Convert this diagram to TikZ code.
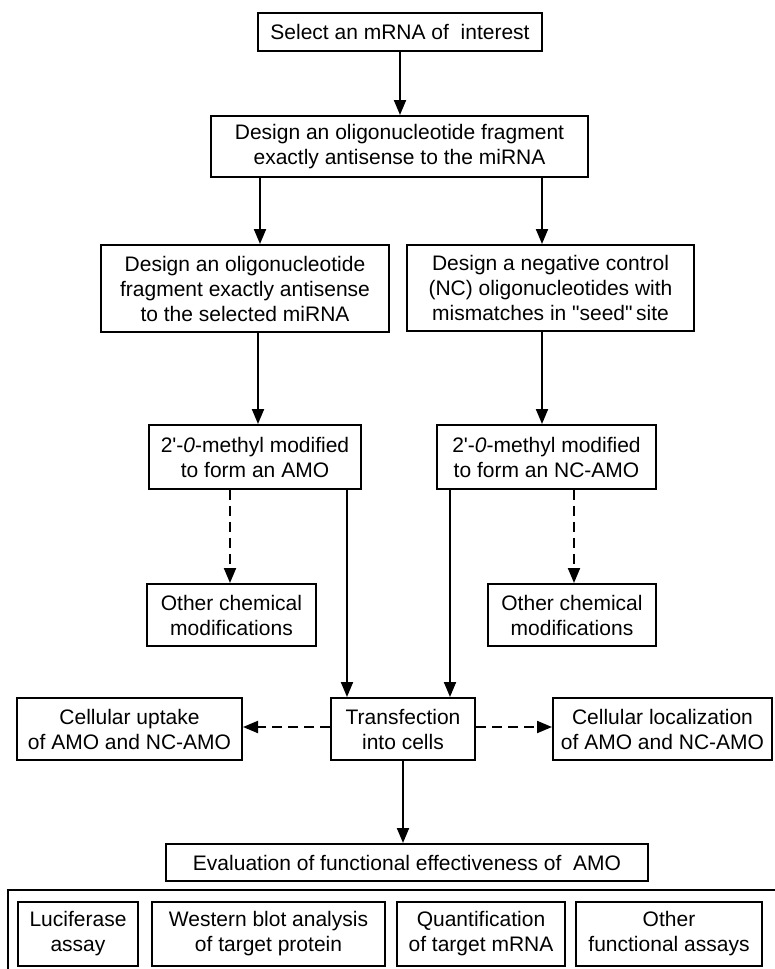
\documentclass[tikz,border=0pt]{standalone}
\usepackage{fontspec}
% plain family (no TeX mapping) so that ' and " stay straight
\newfontfamily\boxfont{Liberation Sans}
\usetikzlibrary{arrows.meta}
\begin{document}
\begin{tikzpicture}[x=1pt,y=-1pt,
  box/.style={draw, line width=2pt, align=center, inner sep=0pt,
    font=\boxfont\fontsize{21}{25}\selectfont},
  arr/.style={line width=2pt, -{Triangle[length=15pt,width=12pt]}},
  darr/.style={arr, dash pattern=on 10pt off 6pt}]
\useasboundingbox (0,0) rectangle (774,969);
\fill[white] (0,0) rectangle (774,969);

% main chain
\node[box, minimum width=284pt, minimum height=38pt] (n1) at (400,32) {Select an mRNA of\ \ interest};
\node[box, minimum width=377pt, minimum height=61pt] (n2) at (399.5,146.5)
  {Design an oligonucleotide fragment\\exactly antisense to the miRNA};
\node[box, minimum width=288pt, minimum height=87pt] (n3) at (245,288.5)
  {Design an oligonucleotide\\fragment exactly antisense\\to the selected miRNA};
\node[box, minimum width=287pt, minimum height=86pt] (n4) at (550.5,288)
  {Design a negative control\\(NC) oligonucleotides with\\mismatches in "seed"\,site};
\node[box, minimum width=212pt, minimum height=64pt] (n5) at (255,457)
  {2'-\textit{0}-methyl modified\\to form an AMO};
\node[box, minimum width=219pt, minimum height=64pt] (n6) at (546.5,457)
  {2'-\textit{0}-methyl modified\\to form an NC-AMO};
\node[box, minimum width=169pt, minimum height=62pt] (oc1) at (231.5,615)
  {Other chemical\\modifications};
\node[box, minimum width=168pt, minimum height=62pt] (oc2) at (572,615)
  {Other chemical\\modifications};
\node[box, minimum width=144pt, minimum height=62pt] (tr) at (403,729)
  {Transfection\\into cells};
\node[box, minimum width=225pt, minimum height=62pt] (up) at (129.5,729)
  {Cellular uptake\\of AMO and NC-AMO};
\node[box, minimum width=219pt, minimum height=62pt] (loc) at (662.5,729)
  {Cellular localization\\of AMO and NC-AMO};
\node[box, minimum width=482pt, minimum height=37pt] (ev) at (407,862.5)
  {Evaluation of functional effectiveness of\ \ AMO};

% assay panel
\draw[line width=2pt] (780,890) -- (8,890) -- (8,975);
\node[box, minimum width=120pt, minimum height=64pt] (a1) at (78,934)
  {Luciferase\\assay};
\node[box, minimum width=233pt, minimum height=64pt] (a2) at (268.5,934)
  {Western blot analysis\\of target protein};
\node[box, minimum width=168pt, minimum height=64pt] (a3) at (481,934)
  {Quantification\\of target mRNA};
\node[box, minimum width=186pt, minimum height=64pt] (a4) at (669,934)
  {Other\\functional assays};

% connectors
\draw[arr] (n1.south -| 400,0) -- (n2.north -| 400,0);
\draw[arr] (n2.south -| 260,0) -- (n3.north -| 260,0);
\draw[arr] (n2.south -| 542,0) -- (n4.north -| 542,0);
\draw[arr] (n3.south -| 258,0) -- (n5.north -| 258,0);
\draw[arr] (n4.south -| 542,0) -- (n6.north -| 542,0);
\draw[darr] (n5.south -| 230,0) -- (oc1.north -| 230,0);
\draw[arr] (n5.south -| 347,0) -- (tr.north -| 347,0);
\draw[arr] (n6.south -| 450,0) -- (tr.north -| 450,0);
\draw[darr] (n6.south -| 574,0) -- (oc2.north -| 574,0);
\draw[darr] (tr.west |- 0,727) -- (up.east |- 0,727);
\draw[darr] (tr.east |- 0,727) -- (loc.west |- 0,727);
\draw[arr] (tr.south -| 403,0) -- (ev.north -| 403,0);
\end{tikzpicture}
\end{document}
